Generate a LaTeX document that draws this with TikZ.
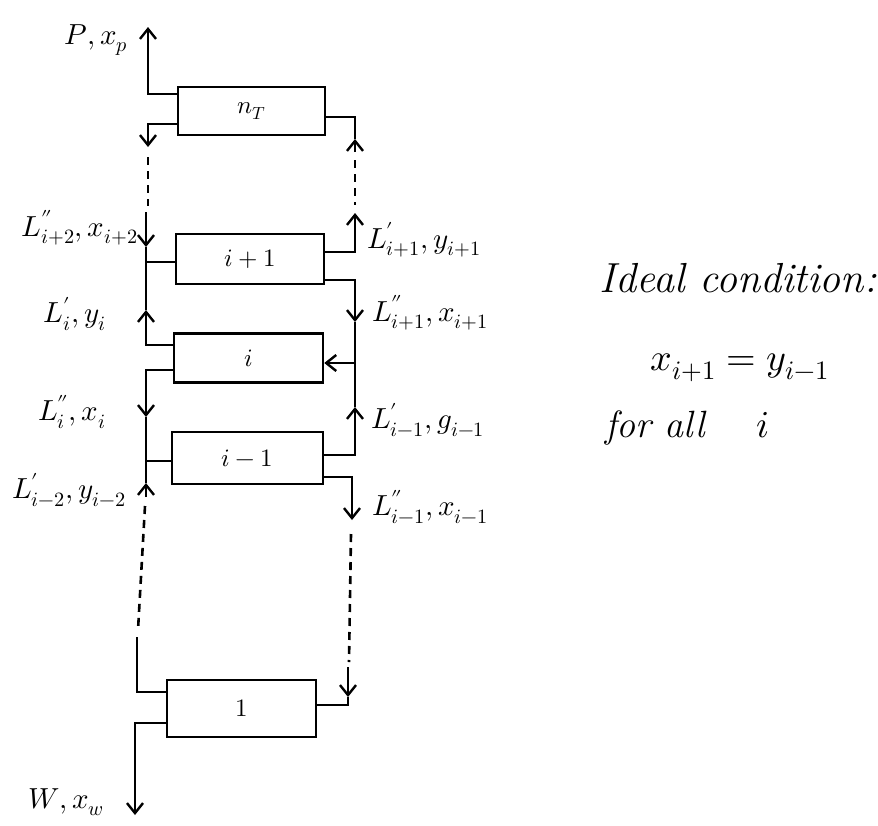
\documentclass[tikz,border=0pt]{standalone}
\usepackage{unicode-math}
\setmathfont{Latin Modern Math}
\usetikzlibrary{arrows.meta}
\begin{document}
\begin{tikzpicture}[x=1pt,y=-1pt,
  stage/.style={draw,line width=2.6pt,inner sep=0pt,font=\fontsize{25}{28}\selectfont},
  flow/.style={line width=2.6pt},
  arr/.style={flow,-{Straight Barb[length=10pt,width=16pt,line width=2.4pt]}},
  dashline/.style={flow,dash pattern=on 8pt off 6pt},
  lab/.style={font=\fontsize{29}{32}\selectfont,inner sep=0pt},
  cond/.style={font=\fontsize{38}{42}\selectfont\itshape,inner sep=0pt}]
\useasboundingbox (0,0) rectangle (878,825);
% stages
\node[stage,minimum width=147pt,minimum height=48pt] (nT) at (251.5,111) {$n_T$};
\node[stage,minimum width=148pt,minimum height=50pt] (ip1) at (250,259) {$i+1$};
\node[stage,minimum width=149pt,minimum height=49pt] (i) at (248.5,358) {$i$};
\node[stage,minimum width=151pt,minimum height=52pt] (im1) at (247.5,458) {$i-1$};
\node[stage,minimum width=149pt,minimum height=57pt] (one) at (241.5,708.5) {$1$};
% coordinates
\coordinate (P) at (148,27);
\coordinate (a1) at (148,147);
\coordinate (d1t) at (148,157);
\coordinate (d1b) at (148,206);
\coordinate (b0) at (355,152);
\coordinate (b1) at (355,139);
\coordinate (d2t) at (355,160);
\coordinate (d2b) at (355,205);
\coordinate (c1) at (146,212);
\coordinate (c2) at (146,247);
\coordinate (c3) at (146,310);
\coordinate (r1) at (355,213);
\coordinate (r2) at (355,322);
\coordinate (r3) at (355,363);
\coordinate (r4) at (355,407);
\coordinate (c4) at (146,417);
\coordinate (c5) at (146,483);
\coordinate (c6) at (146,497);
\coordinate (d3t) at (145,506);
\coordinate (d3b) at (138,630);
\coordinate (c7) at (137,637);
\coordinate (W) at (135,815);
\coordinate (r5) at (352,520);
\coordinate (d4t) at (351,534);
\coordinate (d4b) at (349,662);
\coordinate (r6) at (348,667);
\coordinate (r7) at (348,697);
% connectors
\draw[arr] ([yshift=17pt]nT.west) -| (P);
\draw[arr] ([yshift=-13pt]nT.west) -| (a1);
\draw[dashline] (d1t) -- (d1b);
\draw[arr] (b0) -- (b1);
\draw[flow] (b1) |- ([yshift=-6pt]nT.east);
\draw[dashline] (d2t) -- (d2b);
\draw[arr] (c1) -- (c2);
\draw[flow] (c2) |- ([yshift=-3pt]ip1.west);
\draw[arr] ([yshift=13pt]i.west) -| (c3);
\draw[flow] (c3) -- (c2);
\draw[arr] ([yshift=7pt]ip1.east) -| (r1);
\draw[arr] ([yshift=-21pt]ip1.east) -| (r2);
\draw[flow] (r2) -- (r4);
\draw[arr] (r3) -- (i.east |- r3);
\draw[arr] ([yshift=3pt]im1.east) -| (r4);
\draw[arr] ([yshift=-12pt]i.west) -| (c4);
\draw[flow] (c4) |- ([yshift=-3pt]im1.west);
\draw[arr] (c6) -- (c5);
\draw[flow] (c5) -- (c4);
\draw[dashline] (d3t) -- (d3b);
\draw[flow] ([yshift=16.5pt]one.west) -| (c7);
\draw[arr] ([yshift=-14.5pt]one.west) -| (W);
\draw[arr] ([yshift=-19pt]im1.east) -| (r5);
\draw[dashline] (d4t) -- (d4b);
\draw[arr] (r6) -- (r7);
\draw[flow] (r7) |- ([yshift=3.5pt]one.east);
% labels
\node[lab,anchor=east] (lP) at (128,40) {$P, x_p$};
\node[lab,anchor=east] (l1) at (138,228) {$L''_{i+2}, x_{i+2}$};
\node[lab,anchor=west] (l2) at (367,240) {$L'_{i+1}, y_{i+1}$};
\node[lab,anchor=east] (l3) at (106,314) {$L'_i, y_i$};
\node[lab,anchor=west] (l4) at (372,313) {$L''_{i+1}, x_{i+1}$};
\node[lab,anchor=east] (l5) at (106,412) {$L''_i, x_i$};
\node[lab,anchor=west] (l6) at (371,420) {$L'_{i-1}, g_{i-1}$};
\node[lab,anchor=east] (l7) at (126,490) {$L'_{i-2}, y_{i-2}$};
\node[lab,anchor=west] (l8) at (372,507) {$L''_{i-1}, x_{i-1}$};
\node[lab,anchor=east] (l9) at (104,802) {$W, x_w$};
\node[cond,font=\fontsize{42}{46}\selectfont\itshape] (t1) at (738,278) {Ideal condition:};
\node[cond] (t2) at (740,368) {$x_{i+1} = y_{i-1}$};
\node[cond,anchor=west] (t3) at (605,428) {for all \quad $i$};
\end{tikzpicture}
\end{document}
